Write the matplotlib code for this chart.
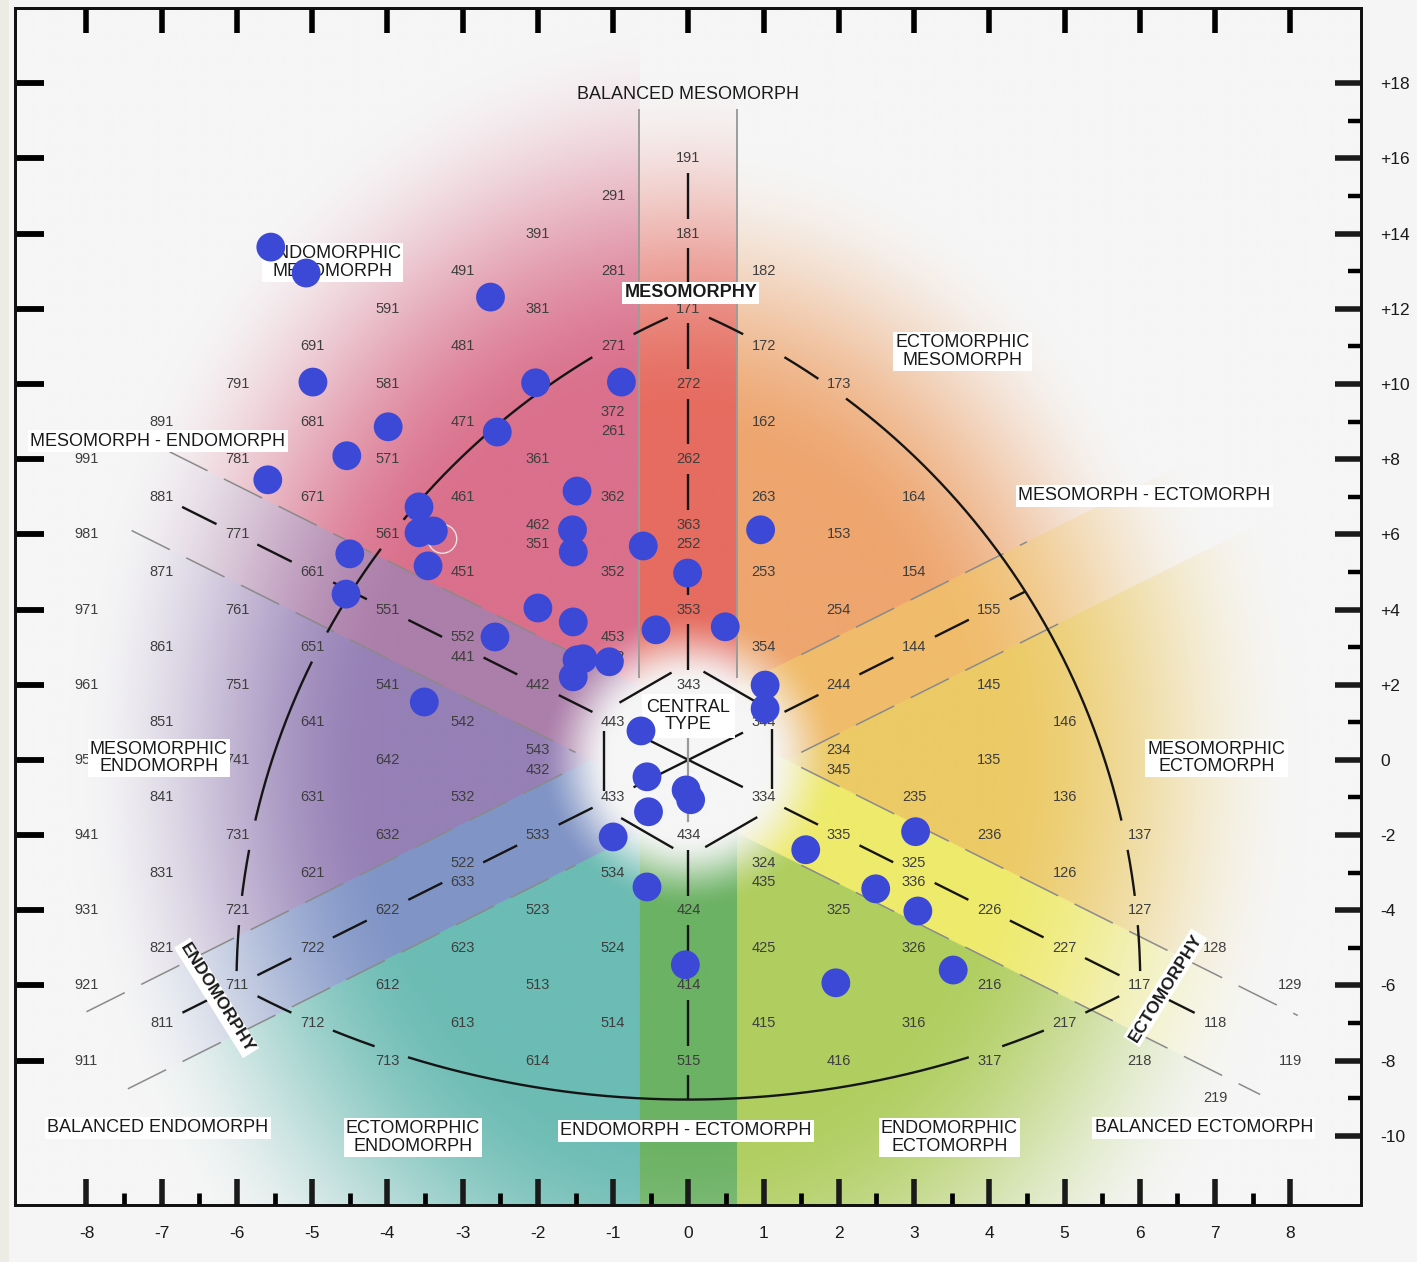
"""Somatochart (Heath-Carter): coloured sectors, rating grid and the sample's somatoplots."""
import numpy as np
import matplotlib.pyplot as plt
from matplotlib.patches import Rectangle

plt.rcParams['font.family'] = ['Liberation Sans', 'DejaVu Sans']
plt.rcParams['axes.unicode_minus'] = False

# somatotype codes printed on the grid (endo, meso, ecto)
grid_codes = [
    "191", "291", "391", "181", "281", "182", "491", "381", "171",
    "591", "691", "481", "271", "172", "791", "581", "272", "173",
    "891", "681", "471", "162", "991", "781", "571", "361", "262",
    "881", "671", "461", "362", "263", "164", "981", "771", "561", "153",
    "871", "661", "451", "352", "253", "154", "971", "761", "551", "353", "254", "155",
    "861", "651", "354", "144", "961", "751", "541", "442", "343", "244", "145",
    "851", "641", "542", "443", "344", "146", "951", "741", "642", "135",
    "841", "631", "532", "433", "334", "235", "136",
    "941", "731", "632", "533", "434", "335", "236", "137",
    "831", "621", "534", "126",
    "931", "721", "622", "523", "424", "325", "226", "127",
    "821", "722", "623", "524", "425", "326", "227", "128",
    "921", "711", "612", "513", "414", "315", "216", "117", "129",
    "811", "712", "613", "514", "415", "316", "217", "118",
    "911", "713", "614", "515", "416", "317", "218", "119", "219",
]
# codes printed in pairs, one above the other, at the grid point of the lower one
stacked_upper = ["372", "462", "363", "552", "453", "543", "234", "522", "324", "325"]
stacked_lower = ["261", "351", "252", "441", "342", "432", "345", "633", "435", "336"]

# somatoplots of the sample (X = ecto - endo, Y = 2*meso - endo - ecto)
dots_x = [-5.55, -5.08, -2.63, -4.99, -2.03, -0.89, -3.99, -2.54, -4.54, -5.59,
          -1.48, -3.58, -3.58, -3.39, -1.54, 0.96, -4.50, -1.53, -0.60, -3.46,
          -0.01, -4.55, -2.00, -1.53, -0.43, 0.49, -2.57, -1.48, -1.40, -1.05,
          -1.53, 1.02, 1.02, -3.51, -0.63, -0.55, -0.03, 0.03, -0.53, -1.00,
          3.02, 1.56, 2.49, -0.55, 3.05, -0.04, 3.52, 1.96]
dots_y = [13.64, 12.95, 12.31, 10.05, 10.03, 10.05, 8.86, 8.72, 8.09, 7.45,
          7.15, 6.73, 6.04, 6.09, 6.12, 6.12, 5.48, 5.53, 5.69, 5.16,
          4.97, 4.41, 4.04, 3.67, 3.46, 3.54, 3.27, 2.66, 2.69, 2.61,
          2.21, 1.99, 1.36, 1.54, 0.77, -0.45, -0.80, -1.06, -1.38, -2.05,
          -1.91, -2.39, -3.43, -3.38, -4.02, -5.45, -5.59, -5.93]
hollow_x = [-3.27]
hollow_y = [5.88]

x_ticks = list(range(-8, 9))
y_ticks_right = list(range(-10, 19, 2))
y_ticks_left = list(range(-8, 19, 2))

XLIM = (-8.95, 8.94)
YLIM = (-11.84, 20.0)
BAND_V = 0.65   # half width of vertical bands (X units)
BAND_D = 1.3    # half width of diagonal bands (Y offset)

# sector colours: 6 wedges then 6 bands
sector_rgb = np.array([
    (238, 165, 110),  # upper-right wedge
    (218, 112, 140),  # upper-left wedge
    (150, 128, 182),  # left wedge
    (108, 188, 180),  # lower-left wedge
    (176, 206, 96),   # lower-right wedge
    (236, 202, 102),  # right wedge
    (230, 108, 96),   # top band
    (108, 178, 100),  # bottom band
    (172, 126, 170),  # upper-left band
    (238, 234, 108),  # lower-right band
    (128, 148, 198),  # lower-left band
    (240, 188, 108),  # upper-right band
]) / 255.0
fade_scale = np.array([1.2, 1.0, 1.0, 1.0, 1.0, 1.0, 1.08, 1.0, 1.0, 1.0, 1.0, 1.1])
BG = np.array([246, 246, 246]) / 255.0


def somato_xy(code):
    endo, meso, ecto = (int(c) for c in code)
    return ecto - endo, 2 * meso - endo - ecto


def smoothstep(t):
    t = np.clip(t, 0, 1)
    return t * t * (3 - 2 * t)


fig = plt.figure(figsize=(14.17, 12.62), dpi=100)
fig.patch.set_facecolor('#f5f5f5')
fig.patches.append(Rectangle((0, 0), 9 / 1417, 1, transform=fig.transFigure,
                             fc='#ecebe4', ec='none', zorder=0))
ax = fig.add_axes([15 / 1417, 1 - 1205 / 1262, 1346 / 1417, 1197 / 1262])

# ---- coloured background ----
gx = np.linspace(*XLIM, 1400)
gy = np.linspace(*YLIM, 1250)
X, Y = np.meshgrid(gx, gy)
ang = np.degrees(np.arctan2(Y, X))
zone = np.select([(ang >= 45) & (ang < 90), (ang >= 90) & (ang < 135),
                  (ang >= 135) | (ang < -135), (ang >= -135) & (ang < -90),
                  (ang >= -90) & (ang < -45)], [0, 1, 2, 3, 4], default=5)
zone = np.where(np.abs(Y - X) < BAND_D, np.where(X < 0, 10, 11), zone)
zone = np.where(np.abs(Y + X) < BAND_D, np.where(X < 0, 8, 9), zone)
zone = np.where(np.abs(X) < BAND_V, np.where(Y > 0, 6, 7), zone)
r_out = np.hypot(X / 7.5, Y / 18.0) * fade_scale[zone]
r_in = np.hypot(X, Y / 2)
alpha = (1 - smoothstep((r_out - 0.55) / 0.55)) * smoothstep((r_in - 1.0) / 1.0)
img = BG + (sector_rgb[zone] - BG) * alpha[..., None]
ax.imshow(img, extent=(*XLIM, *YLIM), origin='lower', aspect='auto',
          interpolation='bilinear', zorder=0)

# ---- label centres (used to break lines under the numbers) ----
centres = [somato_xy(c) for c in grid_codes]
for lo in stacked_lower:
    cx, cy = somato_xy(lo)
    centres += [(cx, cy + 0.26), (cx, cy - 0.26)]
centres = np.array(centres, float)


def gapped(x, y):
    x = np.asarray(x, float)
    y = np.asarray(y, float)
    du = x[:, None] - centres[:, 0]
    dv = (y[:, None] - centres[:, 1]) / 2
    hit = ((np.abs(du) < 0.27) & (np.abs(dv) < 0.19)).any(axis=1)
    return np.where(hit, np.nan, x), np.where(hit, np.nan, y)


line_kw = dict(color='#151515', lw=1.7, solid_capstyle='butt', zorder=2)

# arcs (circles in the chart's true geometry, where one Y unit is half an X unit)
meso_v, endo_v, ecto_v = (0.0, 12.0), (-6.0, -6.0), (6.0, -6.0)
arcs = [((3.74, -3.0), meso_v, endo_v), ((-3.74, -3.0), meso_v, ecto_v),
        ((0.0, 8.1), endo_v, ecto_v)]
for (cu, cv), p0, p1 in arcs:
    R = np.hypot(p0[0] - cu, p0[1] / 2 - cv)
    a0 = np.arctan2(p0[1] / 2 - cv, p0[0] - cu)
    a1 = np.arctan2(p1[1] / 2 - cv, p1[0] - cu)
    t = np.linspace(a0, a1, 1500)
    ax.plot(*gapped(cu + R * np.cos(t), 2 * (cv + R * np.sin(t))), **line_kw)

# where the y = x line meets the right arc, and the vertical line meets the bottom arc
cu, cv = -3.74, -3.0
R = np.hypot(meso_v[0] - cu, meso_v[1] / 2 - cv)
b = -2 * (cu + cv / 2)
x_arc = (-b + np.sqrt(b * b - 4 * 1.25 * (cu * cu + cv * cv - R * R))) / 2.5
Rb = np.hypot(ecto_v[0], ecto_v[1] / 2 - 8.1)
y_bottom = 2 * (8.1 - Rb)

# main axes of the chart
s = np.linspace(-7, 7, 1500)
ax.plot(*gapped(s, -s), **line_kw)
s = np.linspace(-7, x_arc, 1500)
ax.plot(*gapped(s, s), **line_kw)
s = np.linspace(16, 2, 800)
ax.plot(*gapped(np.zeros_like(s), s), **line_kw)
s = np.linspace(-2, y_bottom, 800)
ax.plot(*gapped(np.zeros_like(s), s), **line_kw)
s = np.linspace(2, -2, 200)
ax.plot(*gapped(np.zeros_like(s), s), color='#9a9a9a', lw=1.6, zorder=2)

# central hexagon
hex_a = np.radians(np.arange(90, 451, 60))
hu, hv = 1.29 * np.cos(hex_a), 1.29 * np.sin(hex_a)
for i in range(6):
    f = np.array([0.2, 0.82])
    ax.plot(hu[i] + (hu[i + 1] - hu[i]) * f, 2 * (hv[i] + (hv[i + 1] - hv[i]) * f), **line_kw)

# band boundaries
band_kw = dict(color='#8a8a8a', lw=1.1, ls=(0, (28, 12)), zorder=1)
for sgn, off, xa, xb in [(-1, BAND_D, -6.9, -1.5), (-1, -BAND_D, -7.4, -1.5),
                         (1, BAND_D, -8.0, -1.5), (1, -BAND_D, -7.45, -1.5),
                         (-1, BAND_D, 1.5, 8.1), (-1, -BAND_D, 1.5, 7.6),
                         (1, BAND_D, 1.5, 4.5), (1, -BAND_D, 1.5, 5.1)]:
    s = np.array([xa, xb])
    ax.plot(s, sgn * s + off, **band_kw)
for xv in (-BAND_V, BAND_V):
    ax.plot([xv, xv], [17.3, 2.2], color='#9c9c9c', lw=1.4, zorder=1)

# rating numbers
num_kw = dict(fontsize=10.5, color='#3e3e3e', ha='center', va='center', zorder=3)
for c in grid_codes:
    ax.text(*somato_xy(c), c, **num_kw)
for up, lo in zip(stacked_upper, stacked_lower):
    cx, cy = somato_xy(lo)
    ax.text(cx, cy + 0.26, up, **num_kw)
    ax.text(cx, cy - 0.26, lo, **num_kw)

# region names
box = dict(boxstyle='square,pad=0.12', fc='white', ec='none')
reg_kw = dict(fontsize=13, color='#1a1a1a', ha='center', va='center',
              linespacing=1.05, zorder=4)
ax.text(0, 17.71, "BALANCED MESOMORPH", **reg_kw)
for txt, x, y in [("ENDOMORPHIC\nMESOMORPH", -4.73, 13.23),
                  ("ECTOMORPHIC\nMESOMORPH", 3.64, 10.86),
                  ("MESOMORPH - ENDOMORPH", -7.05, 8.48),
                  ("MESOMORPH - ECTOMORPH", 6.06, 7.02),
                  ("MESOMORPHIC\nENDOMORPH", -7.04, 0.05),
                  ("MESOMORPHIC\nECTOMORPH", 7.02, 0.05),
                  ("BALANCED ENDOMORPH", -7.05, -9.79),
                  ("ECTOMORPHIC\nENDOMORPH", -3.66, -10.05),
                  ("ENDOMORPH - ECTOMORPH", -0.03, -9.87),
                  ("ENDOMORPHIC\nECTOMORPH", 3.47, -10.05),
                  ("BALANCED ECTOMORPH", 6.85, -9.79)]:
    ax.text(x, y, txt, bbox=box, **reg_kw)
ax.text(0, 1.17, "CENTRAL\nTYPE", bbox=dict(boxstyle='square,pad=0.25', fc='white', ec='none'),
        **reg_kw)
ax.text(0.03, 12.42, "MESOMORPHY", fontweight='bold', bbox=box, **reg_kw)
ax.text(-6.27, -6.33, "ENDOMORPHY", fontweight='bold', rotation=-58, bbox=box,
        rotation_mode='anchor', **{**reg_kw, 'fontsize': 12.5})
ax.text(6.34, -6.06, "ECTOMORPHY", fontweight='bold', rotation=58, bbox=box,
        rotation_mode='anchor', **{**reg_kw, 'fontsize': 12.5})

# somatoplots
ax.scatter(dots_x, dots_y, s=430, color='#3c48d6', edgecolors='none', zorder=6)
ax.scatter(hollow_x, hollow_y, s=430, facecolors='none', edgecolors='#e4e4e4',
           linewidths=1.0, zorder=5)

# ---- frame and ticks ----
ax.set_xlim(*XLIM)
ax.set_ylim(*YLIM)
ax.set_xticks(x_ticks)
ax.set_xticklabels([str(v) for v in x_ticks])
ax.set_xticks(np.arange(-7.5, 8, 1.0), minor=True)
ax.set_yticks(y_ticks_left)
ax.tick_params(axis='x', which='major', direction='in', length=19, width=4,
               labelsize=12.5, pad=15, colors='#1a1a1a')
ax.tick_params(axis='x', which='minor', direction='in', length=8.5, width=3.4)
ax.tick_params(axis='y', which='major', direction='in', length=21, width=4.2,
               labelleft=False)

axr = ax.twinx()
axr.set_ylim(*YLIM)
axr.set_yticks(y_ticks_right)
axr.set_yticklabels([f"+{v}" if v > 0 else str(v) for v in y_ticks_right])
axr.set_yticks(np.arange(-9, 18, 2), minor=True)
axr.tick_params(axis='y', which='major', direction='in', length=19, width=4,
                labelsize=12.5, pad=14, colors='#1a1a1a')
axr.tick_params(axis='y', which='minor', direction='in', length=9.5, width=3.2)

axt = ax.twiny()
axt.set_xlim(*XLIM)
axt.set_xticks(x_ticks)
axt.tick_params(axis='x', which='major', direction='in', length=18, width=4,
                labeltop=False)

for a in (ax, axr, axt):
    for sp in a.spines.values():
        sp.set_linewidth(1.9)
        sp.set_color('#111111')

fig.savefig("out.png", dpi=100, facecolor=fig.get_facecolor())
